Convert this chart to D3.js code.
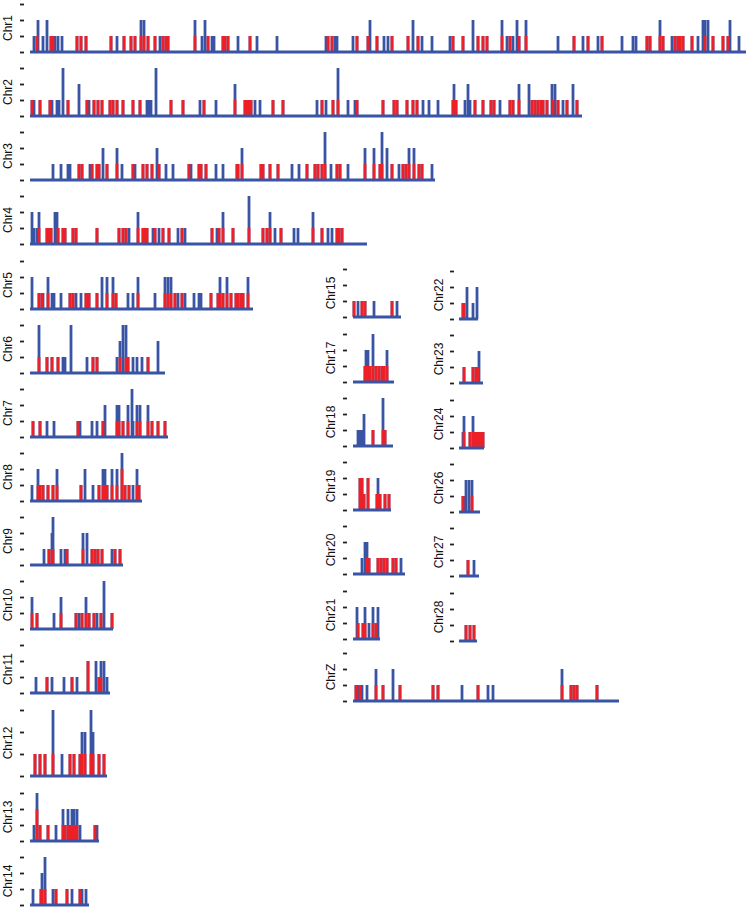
<!DOCTYPE html>
<html><head><meta charset="utf-8">
<script src="https://cdn.jsdelivr.net/npm/d3@7"></script>
<style>html,body{margin:0;padding:0;background:#fff}svg{display:block}</style>
</head><body><div id="chart"></div>
<script>
// ---- DATA: chromosome names, lengths (Mb) and sites [position Mb, total count, red count]
const chromosomes = ["Chr1","Chr2","Chr3","Chr4","Chr5","Chr6","Chr7","Chr8","Chr9","Chr10","Chr11","Chr12","Chr13","Chr14",
  "Chr15","Chr17","Chr18","Chr19","Chr20","Chr21","ChrZ","Chr22","Chr23","Chr24","Chr26","Chr27","Chr28"];
const lengthsMb = [179,138,101.25,84.25,55.75,33.75,34.5,28,23.25,20.75,20,19.25,17.25,14.75,
  12,10.25,10,9.5,13,6.75,66.5,4.75,6,6.25,5.25,5,4.5];
const levelTicks = [0,1,2,3];

const sitesChr1 = [[1,1,0],[1.75,1,1],[2,2,0],[3.25,1,0],[4.25,2,0],[5.25,1,1],[5.75,1,1],[6.25,1,0],[7,1,0],[8,1,0],[11.75,1,1],[12.75,1,1],[14,1,1],[20.25,1,1],[21.75,1,0],[23.5,1,1],[25.25,1,1],[26.25,1,1],[27.75,2,1],[28.5,2,1],[29.5,1,1],[31.25,1,1],[32.5,1,0],[33.25,1,1],[34,1,1],[34.5,1,1],[41.25,2,1],[43,1,0],[43.75,2,0],[44.5,1,1],[45.5,1,0],[46,1,0],[48.25,1,1],[48.75,1,1],[49.5,1,1],[52,1,0],[55,1,1],[56.75,1,0],[61.75,1,0],[74,1,0],[74.5,1,1],[75.5,1,1],[76.25,1,0],[76.75,1,0],[80.75,1,0],[81.75,1,1],[84.5,1,1],[85,2,0],[86.75,1,1],[88.5,1,0],[89.5,1,0],[90.5,1,1],[94.5,1,1],[95.75,2,0],[97,1,1],[98,1,0],[100.5,1,0],[105,1,0],[105.75,1,1],[108.25,1,1],[110.75,2,0],[112,1,1],[113.25,1,1],[114.25,1,1],[118,2,1],[119.25,1,0],[120,1,1],[120.75,1,0],[121.75,2,0],[122.25,1,1],[124,2,1],[132,1,0],[136,1,1],[138.25,1,0],[139.5,1,1],[142,1,0],[143,1,1],[148,1,0],[150.75,1,0],[151.5,1,0],[154.25,1,1],[155,1,1],[157.5,2,1],[158.25,1,1],[160.5,1,0],[161.25,1,1],[162,1,1],[162.5,1,1],[163.25,1,1],[165.5,1,1],[167,1,0],[168.25,2,0],[168.75,2,1],[169.5,2,0],[170.75,1,1],[173.25,1,1],[174.5,1,1],[175,2,0],[177.25,1,0]];
const sitesChr2 = [[0.5,1,1],[1,1,0],[2.5,1,1],[5,1,1],[5.5,1,0],[6.75,1,0],[7.25,1,0],[8.25,3,0],[9.5,1,1],[12.25,2,0],[14.25,1,1],[14.75,1,0],[16,1,1],[17,1,1],[18,1,1],[20,1,1],[20.75,1,1],[21.75,1,1],[23.25,1,1],[25.75,1,1],[27.5,1,1],[29.25,1,0],[29.75,1,0],[30.25,1,0],[31.5,3,0],[35.25,1,1],[38.25,1,1],[42.5,1,0],[43.5,1,1],[46.5,1,0],[51.25,2,1],[53.75,1,1],[54.25,1,1],[54.75,1,1],[55.25,1,1],[56.25,1,0],[57.5,1,0],[60.75,1,1],[63.25,1,1],[71.75,1,0],[73,1,1],[74,1,0],[75.75,1,1],[77,3,1],[79.5,1,0],[81.25,1,0],[81.75,1,1],[88.25,1,1],[91,1,1],[91.75,1,1],[94.25,1,1],[95.75,1,1],[96.75,1,1],[98.25,1,0],[99.75,1,0],[102,1,0],[105.75,1,1],[106,2,1],[106.5,1,1],[108.75,1,0],[109.5,2,0],[110,1,0],[111.25,1,1],[113.25,1,1],[115.25,1,1],[116,1,1],[117.5,1,0],[120,1,1],[120.75,1,1],[122.25,2,1],[124.75,2,0],[125.5,1,1],[126.25,1,1],[127,1,1],[127.75,1,1],[128.25,1,1],[129.25,1,1],[130.5,2,0],[130.75,1,1],[131.25,2,0],[132,1,1],[133.25,1,0],[134.25,1,1],[135.75,2,0],[136.75,1,1]];
const sitesChr3 = [[5.75,1,0],[7.75,1,0],[9.5,1,0],[10,1,0],[12.25,1,1],[13,1,1],[15,1,0],[15.5,1,1],[16.75,1,1],[17.25,1,1],[18.25,2,0],[19.25,1,1],[21.75,2,1],[23,1,0],[25.75,1,1],[26.25,1,0],[28.25,1,1],[29.25,1,1],[30.5,1,1],[31.75,2,0],[32.25,1,1],[34,1,0],[35.75,1,0],[39.75,1,1],[40.25,1,0],[42.25,1,1],[42.75,1,1],[44,1,1],[46.5,1,0],[48.25,1,0],[51.75,1,1],[52,1,1],[53,2,1],[57.75,1,1],[58.25,1,1],[60,1,1],[62,1,1],[65.5,1,0],[67.25,1,0],[69.25,1,1],[71.25,1,1],[72,1,1],[73,1,1],[73.75,3,1],[75.25,1,0],[76.75,1,1],[77.5,1,1],[79.5,1,0],[83.75,2,1],[86,2,1],[87.5,1,1],[88,3,1],[89.25,2,0],[90.5,1,1],[92.25,1,0],[93.25,1,1],[94,1,1],[94.75,2,1],[96,2,1],[97.25,1,1],[98,1,1],[100.5,1,0]];
const sitesChr4 = [[0.5,2,0],[1,1,0],[1.75,1,0],[2.25,2,1],[4.25,1,1],[4.75,1,1],[5.25,1,1],[6.25,2,0],[6.75,2,0],[7,1,1],[8.25,1,1],[8.75,1,1],[10.75,1,1],[11.5,1,1],[16.75,1,1],[22.25,1,1],[23.25,1,1],[24,1,1],[24.75,1,0],[27,2,1],[28.25,1,1],[28.75,1,1],[29.25,1,1],[30.75,1,0],[31.25,1,1],[32.25,1,0],[33.25,1,1],[34.75,1,1],[37,1,0],[38,1,1],[38.75,1,0],[45.5,1,1],[46.75,1,0],[47.25,1,1],[48.25,2,1],[50.75,1,1],[54.75,3,1],[58.25,1,1],[59.25,1,1],[60,2,1],[61.25,1,0],[62.75,1,1],[66,1,0],[67,1,0],[70.75,2,1],[73,1,1],[74.5,1,0],[75.5,1,0],[76.75,1,1],[77.25,1,1],[78,1,1]];
const sitesChr5 = [[0.5,2,0],[2.25,1,1],[3,1,1],[3.25,1,0],[4.5,2,1],[5.5,1,0],[6,1,0],[7.75,1,0],[10,1,1],[10.75,1,1],[11.5,1,0],[12.75,1,0],[14,1,1],[14.25,1,1],[14.75,1,1],[16.75,1,1],[18,2,0],[19.25,2,1],[20.75,2,1],[21.5,1,1],[24.5,1,0],[25.75,1,0],[27,2,1],[31.25,1,0],[33.75,2,1],[34.5,2,1],[35.25,2,1],[36.25,1,1],[37,1,0],[38,1,1],[38.75,1,0],[41,1,0],[42.25,1,0],[42.75,1,0],[45.25,1,1],[47,1,1],[47.5,2,1],[48.25,1,1],[49.25,2,1],[50.25,1,1],[51.5,1,1],[52,1,1],[52.75,1,1],[53.25,1,1],[54.5,2,1]];
const sitesChr6 = [[2.25,3,1],[4.25,1,1],[5.5,1,1],[7,1,1],[8.25,1,0],[8.75,1,0],[10.25,3,0],[14.25,1,0],[15.75,1,1],[16.75,1,1],[21.75,1,0],[22.5,2,1],[23.25,3,0],[24,3,1],[24.5,1,1],[25.75,1,0],[26.75,1,0],[28,1,0],[29.5,1,1],[32,2,0]];
const sitesChr7 = [[0.75,1,1],[2.5,1,1],[4.25,1,0],[6,1,0],[12,1,1],[12.5,1,0],[15.5,1,0],[16.75,1,0],[18.25,1,1],[18.75,2,0],[21.75,2,1],[22.25,2,1],[23.25,1,1],[24.5,2,1],[25.5,3,0],[25.75,1,0],[26.75,2,1],[27.5,2,1],[29.5,2,1],[30.5,1,1],[32,1,1],[33.75,1,1]];
const sitesChr8 = [[0.5,1,0],[2,2,1],[2.5,1,1],[3.25,1,1],[4.5,1,1],[5.75,1,1],[6.75,2,1],[12.75,1,1],[13.75,2,0],[15.75,1,0],[17.25,1,1],[18.25,2,1],[18.75,2,1],[19.25,1,1],[20.5,2,1],[21.75,2,1],[23,3,2],[23.75,1,1],[24.75,1,1],[25.75,1,0],[26.75,2,1],[27.25,1,1]];
const sitesChr9 = [[3.5,1,0],[4.75,1,1],[5.5,2,1],[5.75,3,1],[7.75,1,0],[8.75,1,0],[9.25,1,1],[13.25,2,1],[14.25,2,0],[15.5,1,1],[16.25,1,1],[17,1,1],[18,1,1],[20.5,1,0],[21.25,1,1],[22.5,1,1]];
const sitesChr10 = [[0.5,2,1],[1.75,1,1],[6,1,0],[7.75,2,1],[11.5,1,1],[12.25,1,0],[13,1,1],[14,2,1],[14.75,1,1],[16,1,1],[16.75,1,0],[17.75,1,1],[18.5,3,0],[20.5,1,1]];
const sitesChr11 = [[1.5,1,0],[4.25,1,1],[5.5,1,0],[8.5,1,0],[10.5,1,1],[11.75,1,0],[14.5,2,2],[16.5,2,0],[17.25,1,1],[17.75,2,1],[18.5,2,0],[19.25,1,0]];
const sitesChr12 = [[1.25,1,1],[2.5,1,1],[3.75,1,1],[5.75,3,1],[8,1,0],[10,1,1],[11,1,1],[12.5,1,1],[13,2,1],[13.75,2,1],[15.25,3,1],[15.75,2,1],[17.25,1,1],[18.5,1,1]];
const sitesChr13 = [[1,1,0],[1.75,3,2],[2.5,1,1],[4.5,1,1],[6.5,1,0],[8.25,2,1],[8.75,1,1],[9.5,2,1],[10,1,1],[10.5,2,1],[11,2,1],[11.5,1,1],[11.75,2,1],[12.5,1,0],[16.25,1,1],[16.75,1,0]];
const sitesChr14 = [[0.75,1,0],[2.75,1,1],[3,2,1],[3.75,3,1],[5.75,1,0],[6.5,1,1],[9.25,1,1],[10.5,1,0],[12.5,1,1],[13,1,0],[14,1,0]];
const sitesChr15 = [[0.25,1,1],[1.25,1,0],[2.25,1,1],[3,1,1],[5.25,1,0],[9.75,1,1],[11,1,0]];
const sitesChr17 = [[3,1,1],[3.25,2,1],[3.75,2,1],[4.25,1,1],[5,3,1],[5.75,1,1],[6.5,1,1],[7.25,1,1],[7.75,1,1],[8.5,2,1]];
const sitesChr18 = [[1.25,1,0],[1.75,1,0],[2.25,1,0],[2.75,2,0],[5,1,1],[7.5,3,1],[8,1,1]];
const sitesChr19 = [[1.75,2,2],[2.25,2,2],[2.75,1,1],[3.75,2,2],[6,1,1],[6.25,2,1],[6.75,1,1],[8,1,1],[9,1,1]];
const sitesChr20 = [[2.25,1,0],[3,2,0],[3.5,2,1],[4,1,1],[6.25,1,1],[7,1,1],[7.75,1,1],[8.5,1,1],[10,1,1],[10.75,1,1],[12,1,0]];
const sitesChr21 = [[1,2,0],[1.25,1,1],[2.5,1,1],[3,2,1],[4,1,0],[5,2,1],[5.75,1,1],[6.25,2,0]];
const sitesChrZ = [[0.75,1,1],[1.25,1,0],[1.75,1,1],[2.25,1,0],[3.5,1,0],[5.75,2,1],[7.5,1,1],[10,2,0],[11.75,1,1],[20,1,1],[21.25,1,1],[27.25,1,0],[31.25,1,1],[33.75,1,0],[35,1,0],[52.25,2,1],[54.5,1,1],[55.25,1,1],[56,1,1],[61,1,1]];
const sitesChr22 = [[1,1,1],[1.25,1,1],[2,2,0],[3.5,1,0],[4.5,2,0]];
const sitesChr23 = [[1.25,1,1],[3.5,1,1],[4.25,1,1],[4.75,1,1],[5,2,0]];
const sitesChr24 = [[1,1,0],[1.25,2,1],[2.75,1,1],[3.5,2,1],[4,1,1],[4.5,1,1],[5,1,1],[5.5,1,1],[6,1,1]];
const sitesChr26 = [[1,1,1],[1.25,1,0],[1.75,2,0],[2.5,2,0],[3.25,2,1]];
const sitesChr27 = [[2.25,1,1],[3.75,1,0]];
const sitesChr28 = [[1.75,1,1],[2.75,1,1],[3.75,1,1]];

const sites = [sitesChr1,sitesChr2,sitesChr3,sitesChr4,sitesChr5,sitesChr6,sitesChr7,sitesChr8,sitesChr9,sitesChr10,sitesChr11,sitesChr12,sitesChr13,sitesChr14,
  sitesChr15,sitesChr17,sitesChr18,sitesChr19,sitesChr20,sitesChr21,sitesChrZ,sitesChr22,sitesChr23,sitesChr24,sitesChr26,sitesChr27,sitesChr28];

// ---- LAYOUT (positions / styles)
const W = 749, H = 910;
const pxPerMb = 4;
const columns = [
  {axisX: 24, startX: 30, labelX: 8},
  {axisX: 347, startX: 353, labelX: 331},
  {axisX: 454, startX: 459, labelX: 439}
];
// column index, baseline y, pixel spacing per level
const panelLayout = [
  [0,52,16],[0,116,16],[0,180,16],[0,244,16],[0,309,16],[0,373,16],[0,437,16],[0,501,16],[0,565,16],[0,629,16],[0,693,16],[0,776,22],[0,841,16],[0,905,16],
  [1,317,16],[1,382,16],[1,446,16],[1,510,16],[1,574,16],[1,639,16],[1,701,16],
  [2,319,16],[2,383,16],[2,448,16],[2,512,16],[2,576,16],[2,641,16]
];
const blue = "#3a54a4", red = "#ec2127";

const svg = d3.select("#chart").append("svg").attr("width", W).attr("height", H);

chromosomes.forEach((name, i) => {
  const [col, base, step] = panelLayout[i];
  const c = columns[col];
  const len = lengthsMb[i];
  const x = d3.scaleLinear().domain([0, len]).range([c.startX, c.startX + len * pxPerMb]);
  const y = d3.scaleLinear().domain([0, 3]).range([base, base - 3 * step]);
  const g = svg.append("g");

  const ax = g.append("g").attr("transform", `translate(${c.axisX},0)`)
    .call(d3.axisLeft(y).tickValues(levelTicks).tickFormat("").tickSize(4).tickSizeOuter(0));
  ax.select(".domain").remove();
  ax.selectAll(".tick line").attr("stroke", "#222").attr("stroke-width", 1.8);

  g.append("text")
    .attr("transform", `translate(${c.labelX},${y(1.5)}) rotate(-90)`)
    .attr("text-anchor", "middle").attr("dominant-baseline", "central")
    .attr("font-family", "Liberation Sans, Arial, sans-serif").attr("font-size", 12)
    .attr("fill", "#111").text(name);

  const d = sites[i];
  g.selectAll(".b").data(d).enter().append("line")
    .attr("x1", s => x(s[0])).attr("x2", s => x(s[0]))
    .attr("y1", y(0)).attr("y2", s => y(s[1]))
    .attr("stroke", blue).attr("stroke-width", 2.8);
  g.selectAll(".r").data(d.filter(s => s[2] > 0)).enter().append("line")
    .attr("x1", s => x(s[0])).attr("x2", s => x(s[0]))
    .attr("y1", y(0)).attr("y2", s => y(s[2]))
    .attr("stroke", red).attr("stroke-width", 2.8);
  g.append("line")
    .attr("x1", x(0)).attr("x2", x(len)).attr("y1", y(0)).attr("y2", y(0))
    .attr("stroke", blue).attr("stroke-width", 3);
});
</script></body></html>
